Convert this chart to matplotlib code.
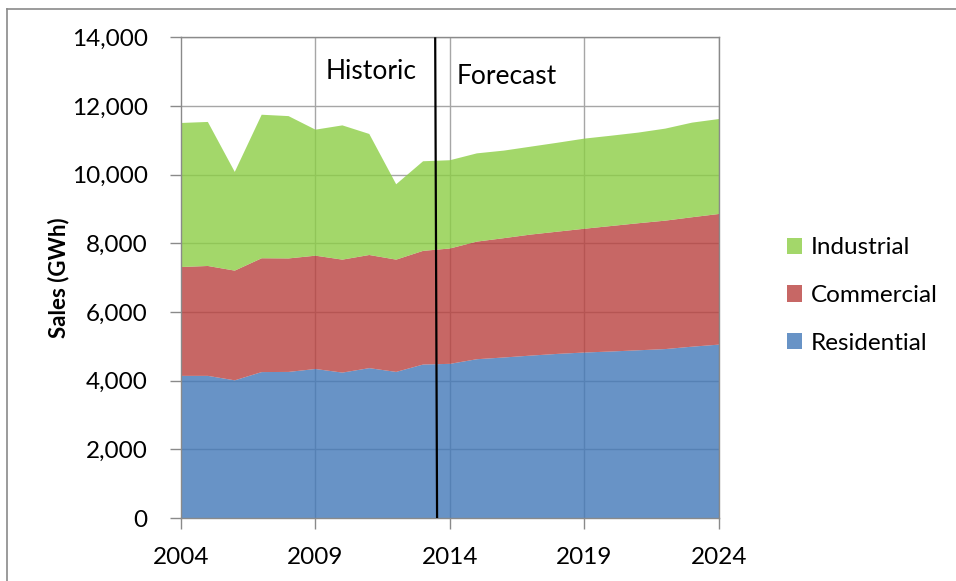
import numpy as np
import matplotlib
matplotlib.use("Agg")
import matplotlib.pyplot as plt
from matplotlib.lines import Line2D
from matplotlib.ticker import FuncFormatter

# =========================
# DATA (GWh)
# =========================

years = list(range(2004, 2025))

residential = [4140, 4140, 4010, 4250, 4255, 4340, 4235, 4365, 4255, 4470, 4490,
               4625, 4675, 4730, 4780, 4820, 4850, 4885, 4920, 4990, 5050]

commercial = [3170, 3200, 3195, 3315, 3305, 3300, 3290, 3295, 3270, 3310, 3360,
              3425, 3475, 3525, 3560, 3605, 3655, 3700, 3740, 3770, 3805]

industrial = [4195, 4195, 2875, 4180, 4145, 3670, 3910, 3525, 2195, 2610, 2570,
              2570, 2550, 2560, 2590, 2625, 2630, 2640, 2680, 2755, 2765]

series_names = ["Residential", "Commercial", "Industrial"]
x_ticks = [2004, 2009, 2014, 2019, 2024]
y_ticks = list(range(0, 14001, 2000))
split_year = 2013.5

# =========================
# STYLE
# =========================

plt.rcParams["font.family"] = ["Lato", "DejaVu Sans"]

colors = ["#4278B8", "#BA413E", "#8CCE45"]
grid_gray = "#a6a6a6"
axis_gray = "#8a8a8a"

fig = plt.figure(figsize=(9.56, 5.81), dpi=100)
ax = fig.add_axes([0.1893, 0.1084, 0.5628, 0.8274])

# =========================
# STACKED AREAS
# =========================

ax.stackplot(years, residential, commercial, industrial,
             labels=series_names, colors=colors, alpha=0.8,
             linewidth=0, zorder=2)

# gridlines sit behind the semi-transparent areas
for y in y_ticks[1:]:
    ax.axhline(y, color=grid_gray, lw=1.0, zorder=1)
for x in x_ticks[1:]:
    ax.axvline(x, color=grid_gray, lw=1.0, zorder=1)

# historic / forecast divider
ax.plot([split_year - 0.05, split_year + 0.02], [14000, 0],
        color="black", lw=1.6, zorder=4, solid_capstyle="butt")

ax.text(2011.05, 12990, "Historic", fontsize=19, ha="center", va="center", zorder=5)
ax.text(2016.1, 12870, "Forecast", fontsize=19, ha="center", va="center", zorder=5)

# =========================
# AXES
# =========================

ax.set_xlim(2004, 2024)
ax.set_ylim(0, 14000)
ax.set_xticks(x_ticks)
ax.set_yticks(y_ticks)
ax.yaxis.set_major_formatter(FuncFormatter(lambda v, p: f"{int(v):,}"))

ax.tick_params(axis="both", direction="out", length=8, width=1,
               color=axis_gray, labelsize=17.5)
ax.tick_params(axis="y", pad=16)
ax.tick_params(axis="x", pad=13)

for side in ["left", "right", "top", "bottom"]:
    ax.spines[side].set_color(axis_gray)
    ax.spines[side].set_linewidth(1.0)
    ax.spines[side].set_zorder(3)

ax.set_ylabel("Sales (GWh)", fontsize=16, fontweight="bold")
ax.yaxis.set_label_coords(-0.207, 0.5)

# =========================
# LEGEND
# =========================

handles, labels = ax.get_legend_handles_labels()
leg = ax.legend(handles[::-1], labels[::-1], loc="center left",
                bbox_to_anchor=(1.085, 0.463), frameon=False, fontsize=17.5,
                handlelength=0.65, handleheight=0.65, handletextpad=0.35,
                labelspacing=1.1)

# outer chart border (left and top edges)
fig.add_artist(Line2D([7 / 956, 7 / 956], [0, 1 - 9 / 581],
                      color=axis_gray, lw=1.2, transform=fig.transFigure))
fig.add_artist(Line2D([7 / 956, 1], [1 - 9 / 581, 1 - 9 / 581],
                      color=axis_gray, lw=1.2, transform=fig.transFigure))

fig.savefig("out.png", dpi=100)
